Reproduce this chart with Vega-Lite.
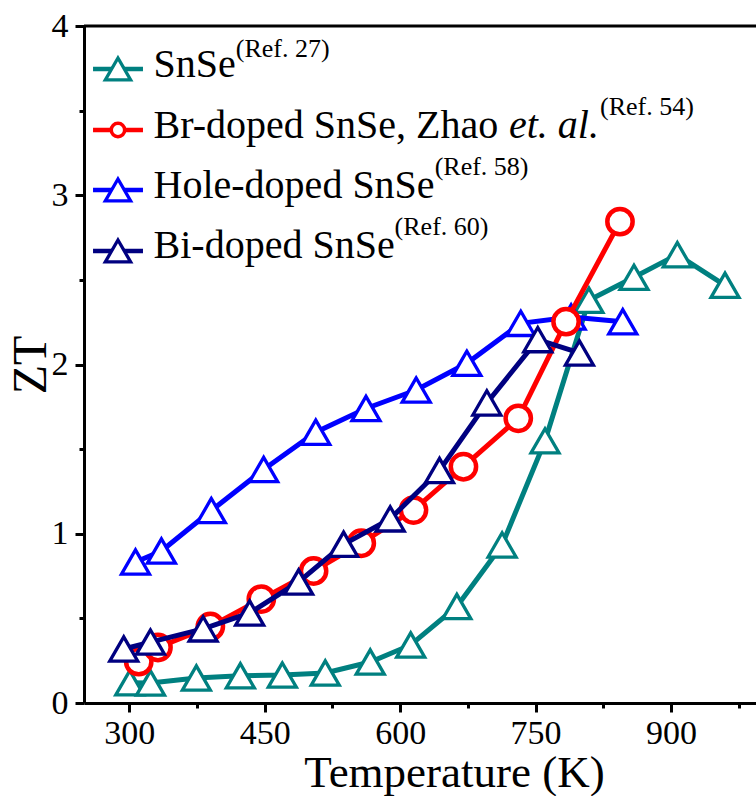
{
  "$schema": "https://vega.github.io/schema/vega-lite/v6.json",
  "width": 672,
  "height": 677,
  "autosize": {"type": "none"},
  "padding": {"left": 84, "top": 26, "right": 0, "bottom": 93},
  "background": "white",
  "config": {
    "view": {"stroke": null},
    "font": "Liberation Serif",
    "axis": {
      "grid": false,
      "domainColor": "black",
      "domainWidth": 3,
      "tickColor": "black",
      "tickWidth": 3,
      "labelFont": "Liberation Serif",
      "labelFontSize": 34,
      "labelColor": "black",
      "titleFont": "Liberation Serif",
      "titleFontWeight": "normal",
      "titleColor": "black"
    }
  },
  "datasets": {
    "zt": [
      {"series": "SnSe", "T": 300.7, "ZT": 0.120},
      {"series": "SnSe", "T": 323.6, "ZT": 0.118},
      {"series": "SnSe", "T": 374.4, "ZT": 0.148},
      {"series": "SnSe", "T": 423.1, "ZT": 0.161},
      {"series": "SnSe", "T": 469.6, "ZT": 0.165},
      {"series": "SnSe", "T": 517.1, "ZT": 0.177},
      {"series": "SnSe", "T": 566.9, "ZT": 0.242},
      {"series": "SnSe", "T": 611.7, "ZT": 0.343},
      {"series": "SnSe", "T": 662.8, "ZT": 0.570},
      {"series": "SnSe", "T": 712.9, "ZT": 0.934},
      {"series": "SnSe", "T": 760.4, "ZT": 1.549},
      {"series": "SnSe", "T": 809.0, "ZT": 2.380},
      {"series": "SnSe", "T": 858.9, "ZT": 2.515},
      {"series": "SnSe", "T": 906.9, "ZT": 2.649},
      {"series": "SnSe", "T": 959.7, "ZT": 2.468},
      {"series": "Hole", "T": 307.0, "ZT": 0.833},
      {"series": "Hole", "T": 335.7, "ZT": 0.898},
      {"series": "Hole", "T": 391.0, "ZT": 1.137},
      {"series": "Hole", "T": 448.9, "ZT": 1.380},
      {"series": "Hole", "T": 506.6, "ZT": 1.600},
      {"series": "Hole", "T": 562.2, "ZT": 1.740},
      {"series": "Hole", "T": 617.8, "ZT": 1.849},
      {"series": "Hole", "T": 673.9, "ZT": 2.007},
      {"series": "Hole", "T": 733.6, "ZT": 2.243},
      {"series": "Hole", "T": 789.3, "ZT": 2.281},
      {"series": "Hole", "T": 846.5, "ZT": 2.253},
      {"series": "Br", "T": 310.6, "ZT": 0.244},
      {"series": "Br", "T": 331.9, "ZT": 0.328},
      {"series": "Br", "T": 389.9, "ZT": 0.452},
      {"series": "Br", "T": 446.3, "ZT": 0.614},
      {"series": "Br", "T": 504.2, "ZT": 0.780},
      {"series": "Br", "T": 557.0, "ZT": 0.944},
      {"series": "Br", "T": 614.8, "ZT": 1.140},
      {"series": "Br", "T": 670.1, "ZT": 1.396},
      {"series": "Br", "T": 730.8, "ZT": 1.682},
      {"series": "Br", "T": 783.7, "ZT": 2.253},
      {"series": "Br", "T": 843.4, "ZT": 2.844},
      {"series": "Bi", "T": 294.0, "ZT": 0.319},
      {"series": "Bi", "T": 323.6, "ZT": 0.360},
      {"series": "Bi", "T": 381.9, "ZT": 0.438},
      {"series": "Bi", "T": 433.4, "ZT": 0.532},
      {"series": "Bi", "T": 487.6, "ZT": 0.715},
      {"series": "Bi", "T": 537.4, "ZT": 0.938},
      {"series": "Bi", "T": 589.0, "ZT": 1.088},
      {"series": "Bi", "T": 643.6, "ZT": 1.374},
      {"series": "Bi", "T": 696.0, "ZT": 1.773},
      {"series": "Bi", "T": 752.4, "ZT": 2.147},
      {"series": "Bi", "T": 798.5, "ZT": 2.068}
    ]
  },
  "layer": [
    {
      "data": {"name": "zt"},
      "encoding": {
        "x": {
          "field": "T",
          "type": "quantitative",
          "scale": {"domain": [250, 994], "nice": false, "zero": false},
          "axis": {
            "values": [300, 375, 450, 525, 600, 675, 750, 825, 900, 975],
            "labelExpr": "datum.value % 150 === 0 ? format(datum.value, 'd') : ''",
            "tickSize": {"condition": {"test": "datum.value % 150 !== 0", "value": 5}, "value": 9},
            "labelPadding": 4,
            "labelFlush": false,
            "title": "Temperature (K)",
            "titleFontSize": 45,
            "titleX": 370,
            "titleY": 83,
            "titleBaseline": "alphabetic",
            "titleAlign": "center"
          }
        },
        "y": {
          "field": "ZT",
          "type": "quantitative",
          "scale": {"domain": [0, 4], "nice": false},
          "axis": {
            "values": [0, 0.5, 1, 1.5, 2, 2.5, 3, 3.5, 4],
            "labelExpr": "datum.value % 1 === 0 ? format(datum.value, 'd') : ''",
            "tickSize": {"condition": {"test": "datum.value % 1 !== 0", "value": 5}, "value": 9},
            "labelPadding": 7,
            "labelFlush": false,
            "title": "ZT",
            "titleFontSize": 48,
            "titleX": -39,
            "titleY": 338.5,
            "titleAngle": 270,
            "titleBaseline": "alphabetic",
            "titleAlign": "center"
          }
        }
      },
      "layer": [
        {"transform": [{"filter": "datum.series === 'SnSe'"}], "mark": {"type": "line", "color": "#008080", "strokeWidth": 5}},
        {"transform": [{"filter": "datum.series === 'SnSe'"}], "mark": {"type": "point", "shape": "triangle-up", "size": 784, "filled": true, "fill": "white", "stroke": "#008080", "strokeWidth": 3.3, "opacity": 1}},
        {"transform": [{"filter": "datum.series === 'Hole'"}], "mark": {"type": "line", "color": "#0000FF", "strokeWidth": 5}},
        {"transform": [{"filter": "datum.series === 'Hole'"}], "mark": {"type": "point", "shape": "triangle-up", "size": 784, "filled": true, "fill": "white", "stroke": "#0000FF", "strokeWidth": 3.3, "opacity": 1}},
        {"transform": [{"filter": "datum.series === 'Br'"}], "mark": {"type": "line", "color": "#FF0000", "strokeWidth": 5}},
        {"transform": [{"filter": "datum.series === 'Br'"}], "mark": {"type": "point", "shape": "circle", "size": 640, "filled": true, "fill": "white", "stroke": "#FF0000", "strokeWidth": 4.5, "opacity": 1}},
        {"transform": [{"filter": "datum.series === 'Bi'"}], "mark": {"type": "line", "color": "#000080", "strokeWidth": 5}},
        {"transform": [{"filter": "datum.series === 'Bi'"}], "mark": {"type": "point", "shape": "triangle-up", "size": 784, "filled": true, "fill": "white", "stroke": "#000080", "strokeWidth": 3.3, "opacity": 1}}
      ]
    },
    {
      "data": {"values": [{"edge": "top"}]},
      "mark": {"type": "rule", "color": "black", "strokeWidth": 3},
      "encoding": {"y": {"datum": 4}}
    },
    {
      "data": {"values": [{"label": "SnSe", "sup": "(Ref. 27)"}]},
      "layer": [
        {"mark": {"type": "rule", "color": "#008080", "strokeWidth": 4.5}, "encoding": {"x": {"datum": 260}, "x2": {"datum": 315.3}, "y": {"datum": 3.746}}},
        {"mark": {"type": "point", "shape": "triangle-up", "size": 640, "filled": true, "fill": "white", "stroke": "#008080", "strokeWidth": 3.3, "opacity": 1}, "encoding": {"x": {"datum": 287.6}, "y": {"datum": 3.746}}},
        {"mark": {"type": "text", "font": "Liberation Serif", "fontSize": 40, "align": "left", "baseline": "alphabetic", "color": "black"}, "encoding": {"x": {"datum": 327}, "y": {"datum": 3.699}, "text": {"field": "label"}}},
        {"mark": {"type": "text", "font": "Liberation Serif", "fontSize": 26, "align": "left", "baseline": "alphabetic", "color": "black"}, "encoding": {"x": {"datum": 418}, "y": {"datum": 3.817}, "text": {"field": "sup"}}}
      ]
    },
    {
      "data": {"values": [{"label": "Br-doped SnSe, Zhao", "ital": "et. al.", "sup": "(Ref. 54)"}]},
      "layer": [
        {"mark": {"type": "rule", "color": "#FF0000", "strokeWidth": 4.5}, "encoding": {"x": {"datum": 260}, "x2": {"datum": 315.3}, "y": {"datum": 3.386}}},
        {"mark": {"type": "point", "shape": "circle", "size": 180, "filled": true, "fill": "white", "stroke": "#FF0000", "strokeWidth": 3.5, "opacity": 1}, "encoding": {"x": {"datum": 287.6}, "y": {"datum": 3.386}}},
        {"mark": {"type": "text", "font": "Liberation Serif", "fontSize": 40, "align": "left", "baseline": "alphabetic", "color": "black"}, "encoding": {"x": {"datum": 327}, "y": {"datum": 3.338}, "text": {"field": "label"}}},
        {"mark": {"type": "text", "font": "Liberation Serif", "fontSize": 40, "fontStyle": "italic", "align": "left", "baseline": "alphabetic", "color": "black"}, "encoding": {"x": {"datum": 720.5}, "y": {"datum": 3.338}, "text": {"field": "ital"}}},
        {"mark": {"type": "text", "font": "Liberation Serif", "fontSize": 26, "align": "left", "baseline": "alphabetic", "color": "black"}, "encoding": {"x": {"datum": 821.3}, "y": {"datum": 3.474}, "text": {"field": "sup"}}}
      ]
    },
    {
      "data": {"values": [{"label": "Hole-doped SnSe", "sup": "(Ref. 58)"}]},
      "layer": [
        {"mark": {"type": "rule", "color": "#0000FF", "strokeWidth": 4.5}, "encoding": {"x": {"datum": 260}, "x2": {"datum": 315.3}, "y": {"datum": 3.031}}},
        {"mark": {"type": "point", "shape": "triangle-up", "size": 640, "filled": true, "fill": "white", "stroke": "#0000FF", "strokeWidth": 3.3, "opacity": 1}, "encoding": {"x": {"datum": 287.6}, "y": {"datum": 3.031}}},
        {"mark": {"type": "text", "font": "Liberation Serif", "fontSize": 40, "align": "left", "baseline": "alphabetic", "color": "black"}, "encoding": {"x": {"datum": 327}, "y": {"datum": 2.983}, "text": {"field": "label"}}},
        {"mark": {"type": "text", "font": "Liberation Serif", "fontSize": 26, "align": "left", "baseline": "alphabetic", "color": "black"}, "encoding": {"x": {"datum": 638.2}, "y": {"datum": 3.120}, "text": {"field": "sup"}}}
      ]
    },
    {
      "data": {"values": [{"label": "Bi-doped SnSe", "sup": "(Ref. 60)"}]},
      "layer": [
        {"mark": {"type": "rule", "color": "#000080", "strokeWidth": 4.5}, "encoding": {"x": {"datum": 260}, "x2": {"datum": 315.3}, "y": {"datum": 2.671}}},
        {"mark": {"type": "point", "shape": "triangle-up", "size": 640, "filled": true, "fill": "white", "stroke": "#000080", "strokeWidth": 3.3, "opacity": 1}, "encoding": {"x": {"datum": 287.6}, "y": {"datum": 2.671}}},
        {"mark": {"type": "text", "font": "Liberation Serif", "fontSize": 40, "align": "left", "baseline": "alphabetic", "color": "black"}, "encoding": {"x": {"datum": 327}, "y": {"datum": 2.629}, "text": {"field": "label"}}},
        {"mark": {"type": "text", "font": "Liberation Serif", "fontSize": 26, "align": "left", "baseline": "alphabetic", "color": "black"}, "encoding": {"x": {"datum": 593.9}, "y": {"datum": 2.765}, "text": {"field": "sup"}}}
      ]
    }
  ]
}
